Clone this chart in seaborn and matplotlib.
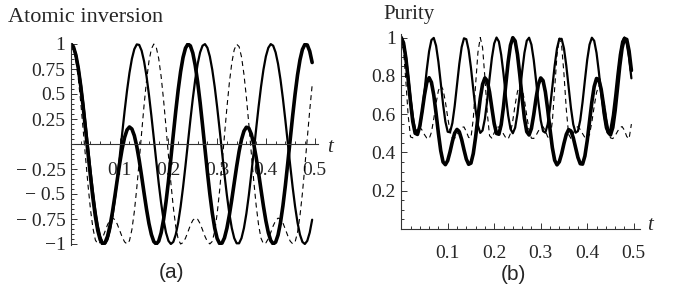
import numpy as np
import matplotlib
matplotlib.use("Agg")
import matplotlib.pyplot as plt
import seaborn as sns
from matplotlib.ticker import FixedLocator

# ---- data (time grid step 0.005) ----
t = np.arange(100) * 0.005

inv_thick = [1.000, 0.972, 0.889, 0.756, 0.580, 0.372, 0.142, -0.095, -0.327, -0.541,
             -0.724, -0.866, -0.959, -0.999, -0.985, -0.923, -0.820, -0.683, -0.524, -0.356,
             -0.193, -0.048, 0.066, 0.141, 0.170, 0.150, 0.084, -0.023, -0.162, -0.323,
             -0.491, -0.652, -0.795, -0.905, -0.976, -1.000, -0.972, -0.889, -0.756, -0.580,
             -0.372, -0.142, 0.095, 0.327, 0.541, 0.724, 0.866, 0.959, 0.999, 0.982,
             0.910, 0.786, 0.618, 0.416, 0.189, -0.048, -0.282, -0.500, -0.690, -0.841,
             -0.945, -0.995, -0.991, -0.939, -0.843, -0.712, -0.557, -0.390, -0.225, -0.075,
             0.046, 0.129, 0.168, 0.158, 0.101, 0.002, -0.132, -0.289, -0.457, -0.621,
             -0.768, -0.886, -0.965, -0.999, -0.982, -0.910, -0.786, -0.618, -0.416, -0.189,
             0.048, 0.282, 0.500, 0.690, 0.841, 0.945, 0.995, 0.990, 0.928, 0.815]

inv_medium = [1.000, 0.974, 0.897, 0.772, 0.608, 0.412, 0.194, -0.034, -0.261, -0.473,
              -0.661, -0.815, -0.925, -0.987, -0.998, -0.956, -0.864, -0.727, -0.552, -0.348,
              -0.126, 0.103, 0.327, 0.533, 0.711, 0.852, 0.949, 0.996, 0.991, 0.933,
              0.827, 0.678, 0.493, 0.282, 0.057, -0.171, -0.391, -0.590, -0.758, -0.886,
              -0.968, -1.000, -0.979, -0.906, -0.787, -0.626, -0.432, -0.216, 0.012, 0.239,
              0.453, 0.644, 0.801, 0.916, 0.983, 0.999, 0.962, 0.875, 0.742, 0.571,
              0.369, 0.148, -0.080, -0.305, -0.513, -0.695, -0.840, -0.941, -0.993, -0.993,
              -0.941, -0.840, -0.695, -0.513, -0.304, -0.080, 0.149, 0.370, 0.571, 0.743,
              0.876, 0.962, 0.999, 0.983, 0.916, 0.801, 0.644, 0.453, 0.238, 0.011,
              -0.216, -0.433, -0.626, -0.787, -0.907, -0.979, -1.000, -0.968, -0.886, -0.757]

inv_dashed = [1.000, 0.960, 0.841, 0.655, 0.415, 0.142, -0.142, -0.415, -0.655, -0.841,
              -0.960, -1.000, -0.983, -0.936, -0.872, -0.807, -0.759, -0.740, -0.756, -0.802,
              -0.865, -0.930, -0.979, -1.000, -0.967, -0.856, -0.676, -0.441, -0.171, 0.114,
              0.389, 0.633, 0.826, 0.951, 1.000, 0.967, 0.856, 0.676, 0.441, 0.171,
              -0.114, -0.389, -0.633, -0.826, -0.951, -1.000, -0.986, -0.942, -0.879, -0.813,
              -0.763, -0.740, -0.753, -0.796, -0.859, -0.924, -0.976, -0.999, -0.974, -0.871,
              -0.697, -0.467, -0.199, 0.086, 0.363, 0.610, 0.809, 0.942, 0.998, 0.974,
              0.871, 0.697, 0.467, 0.199, -0.086, -0.363, -0.610, -0.809, -0.942, -0.998,
              -0.989, -0.947, -0.885, -0.819, -0.767, -0.741, -0.750, -0.790, -0.852, -0.918,
              -0.972, -0.998, -0.980, -0.884, -0.717, -0.492, -0.226, 0.057, 0.336, 0.588]

pur_thick = [1.000, 0.972, 0.893, 0.781, 0.662, 0.560, 0.500, 0.494, 0.537, 0.614,
             0.699, 0.765, 0.790, 0.766, 0.700, 0.604, 0.500, 0.409, 0.350, 0.336,
             0.357, 0.403, 0.457, 0.501, 0.520, 0.507, 0.467, 0.414, 0.365, 0.338,
             0.344, 0.394, 0.480, 0.583, 0.682, 0.756, 0.789, 0.774, 0.715, 0.631,
             0.550, 0.499, 0.495, 0.545, 0.639, 0.757, 0.873, 0.960, 0.999, 0.982,
             0.912, 0.805, 0.685, 0.578, 0.508, 0.491, 0.525, 0.597, 0.683, 0.755,
             0.789, 0.775, 0.716, 0.625, 0.521, 0.425, 0.359, 0.335, 0.351, 0.393,
             0.447, 0.494, 0.519, 0.512, 0.477, 0.425, 0.374, 0.341, 0.339, 0.381,
             0.461, 0.563, 0.664, 0.744, 0.786, 0.781, 0.730, 0.649, 0.565, 0.506,
             0.491, 0.530, 0.618, 0.733, 0.851, 0.945, 0.995, 0.990, 0.930, 0.828]

pur_medium = [1.000, 0.974, 0.902, 0.798, 0.685, 0.585, 0.519, 0.501, 0.534, 0.612,
              0.718, 0.832, 0.928, 0.987, 0.998, 0.957, 0.873, 0.764, 0.652, 0.561,
              0.508, 0.505, 0.553, 0.642, 0.753, 0.863, 0.950, 0.996, 0.991, 0.935,
              0.842, 0.730, 0.622, 0.540, 0.502, 0.515, 0.576, 0.674, 0.787, 0.893,
              0.969, 1.000, 0.979, 0.910, 0.810, 0.696, 0.593, 0.523, 0.500, 0.529,
              0.603, 0.707, 0.821, 0.920, 0.983, 0.999, 0.963, 0.883, 0.775, 0.663,
              0.568, 0.511, 0.503, 0.547, 0.632, 0.742, 0.853, 0.943, 0.993, 0.993,
              0.943, 0.853, 0.742, 0.632, 0.546, 0.503, 0.511, 0.568, 0.663, 0.776,
              0.884, 0.963, 0.999, 0.983, 0.920, 0.821, 0.707, 0.603, 0.528, 0.500,
              0.523, 0.594, 0.696, 0.810, 0.911, 0.979, 1.000, 0.969, 0.893, 0.787]

pur_dashed = [1.000, 0.935, 0.773, 0.592, 0.481, 0.476, 0.506, 0.532, 0.532, 0.516,
              0.493, 0.475, 0.471, 0.505, 0.575, 0.657, 0.723, 0.750, 0.728, 0.665,
              0.583, 0.510, 0.472, 0.474, 0.491, 0.514, 0.531, 0.533, 0.509, 0.478,
              0.476, 0.576, 0.754, 0.922, 1.000, 0.947, 0.791, 0.608, 0.487, 0.474,
              0.503, 0.531, 0.533, 0.518, 0.496, 0.476, 0.470, 0.499, 0.567, 0.649,
              0.718, 0.749, 0.732, 0.673, 0.591, 0.516, 0.474, 0.473, 0.489, 0.512,
              0.530, 0.534, 0.513, 0.481, 0.473, 0.561, 0.735, 0.909, 0.997, 0.958,
              0.810, 0.625, 0.494, 0.473, 0.499, 0.529, 0.534, 0.520, 0.498, 0.478,
              0.470, 0.494, 0.559, 0.641, 0.713, 0.748, 0.736, 0.680, 0.600, 0.523,
              0.476, 0.472, 0.487, 0.509, 0.529, 0.535, 0.516, 0.483, 0.471, 0.548]

x_major = [0.1, 0.2, 0.3, 0.4, 0.5]
inv_ticks = [1, 0.75, 0.5, 0.25, -0.25, -0.5, -0.75, -1]
inv_labels = ["1", "0.75", "0.5", "0.25", "\u2212 0.25", "\u2212 0.5", "\u2212 0.75", "\u22121"]
pur_ticks = [0.2, 0.4, 0.6, 0.8, 1]
pur_labels = ["0.2", "0.4", "0.6", "0.8", "1"]

# ---- style ----
sns.set_style("ticks")
plt.rcParams["font.family"] = ["Liberation Serif", "DejaVu Serif"]
W, H = 677, 297

fig = plt.figure(figsize=(W / 100, H / 100), dpi=100)
ax1 = fig.add_axes([71 / W, (H - 245) / H, 247 / W, 202 / H])
ax2 = fig.add_axes([401.2 / W, (H - 229) / H, 238.8 / W, 195.3 / H])

styles = [dict(lw=0.8, linestyle=(0, (4.5, 3.5))), dict(lw=1.6), dict(lw=2.6)]

for ax, series in [(ax1, [inv_dashed, inv_medium, inv_thick]),
                   (ax2, [pur_dashed, pur_medium, pur_thick])]:
    for ys, st in zip(series, styles):
        sns.lineplot(x=t, y=ys, ax=ax, color="black", **st)

def mathematica_axes(ax, xlim, ylim, yt, ylab, yminor, xpad):
    ax.set_xlim(*xlim)
    ax.set_ylim(*ylim)
    for s in ["top", "right"]:
        ax.spines[s].set_visible(False)
    ax.spines["left"].set_position(("data", 0))
    ax.spines["bottom"].set_position(("data", 0))
    for s in ["left", "bottom"]:
        ax.spines[s].set_linewidth(0.8)
        ax.spines[s].set_color("#333333")
    ax.xaxis.set_major_locator(FixedLocator(x_major))
    ax.set_xticklabels(["0.1", "0.2", "0.3", "0.4", "0.5"])
    ax.xaxis.set_minor_locator(FixedLocator([v for v in np.arange(0.02, 0.51, 0.02)]))
    ax.yaxis.set_major_locator(FixedLocator(yt))
    ax.set_yticklabels(ylab)
    ax.yaxis.set_minor_locator(FixedLocator(yminor))
    ax.tick_params(which="both", direction="in", color="#333333", labelsize=14, width=0.7)
    ax.tick_params(which="major", length=4)
    ax.tick_params(which="minor", length=2)
    ax.tick_params(axis="x", pad=xpad)
    ax.tick_params(axis="y", pad=4)
    ax.set_xlabel("")
    ax.set_ylabel("")
    ax.patch.set_alpha(0)

mathematica_axes(ax1, (0, 0.507), (-1.01, 1.01), inv_ticks, inv_labels,
                 [v for v in np.arange(-1.0, 1.01, 0.05)], 13)
mathematica_axes(ax2, (0, 0.5135), (0, 1.02), pur_ticks, pur_labels,
                 [v for v in np.arange(0.05, 1.01, 0.05)], 11.5)

fig.text(8 / W, 1 - 18 / H, "Atomic inversion", fontsize=16, va="center", ha="left")
fig.text(383 / W, 1 - 15 / H, "Purity", fontsize=15, va="center", ha="left")
fig.text(330 / W, 1 - 147 / H, "t", fontsize=15, style="italic", va="center", ha="center")
fig.text(650 / W, 1 - 226 / H, "t", fontsize=15, style="italic", va="center", ha="center")
fig.text(171 / W, 1 - 272 / H, "(a)", fontsize=15, family="Liberation Sans", va="center", ha="center")
fig.text(513 / W, 1 - 275 / H, "(b)", fontsize=15, family="Liberation Sans", va="center", ha="center")

fig.savefig("out.png", dpi=100)
